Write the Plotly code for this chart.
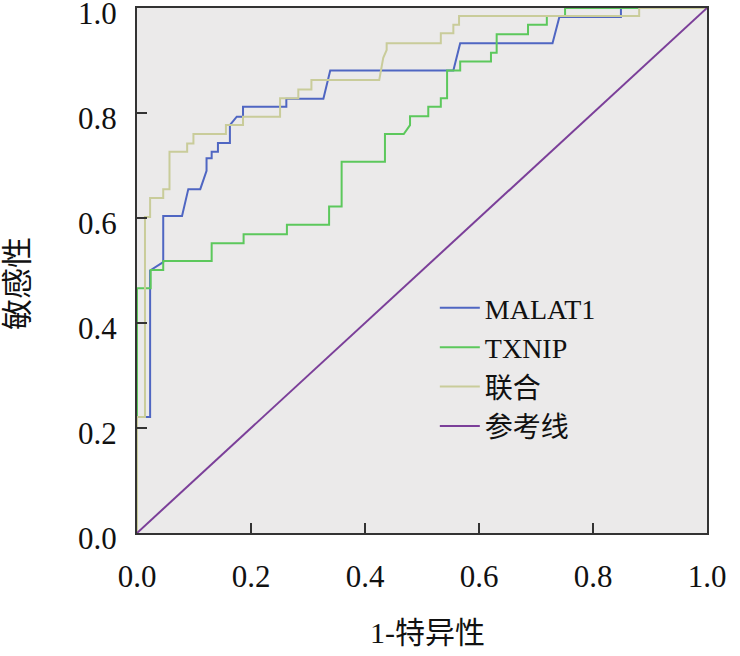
import plotly.graph_objects as go

# ROC curve points (1 - specificity, sensitivity)
malat1_x = [0, 0, 0.023, 0.023, 0.046, 0.046, 0.079, 0.090, 0.111, 0.122, 0.122, 0.131, 0.131,
            0.142, 0.142, 0.163, 0.163, 0.175, 0.186, 0.186, 0.262, 0.262, 0.327, 0.339, 0.555,
            0.567, 0.729, 0.741, 0.849, 0.849, 1.0]
malat1_y = [0, 0.221, 0.221, 0.500, 0.516, 0.604, 0.604, 0.655, 0.655, 0.690, 0.714, 0.714, 0.726,
            0.726, 0.743, 0.743, 0.777, 0.793, 0.793, 0.812, 0.812, 0.827, 0.827, 0.881, 0.881,
            0.933, 0.933, 0.983, 0.983, 1.0, 1.0]

txnip_x = [0, 0, 0.024, 0.024, 0.046, 0.046, 0.131, 0.131, 0.187, 0.187, 0.263, 0.263, 0.337,
           0.337, 0.359, 0.359, 0.435, 0.435, 0.468, 0.479, 0.479, 0.511, 0.511, 0.533, 0.533,
           0.544, 0.544, 0.567, 0.567, 0.621, 0.621, 0.631, 0.631, 0.686, 0.686, 0.719, 0.719,
           0.751, 0.751, 1.0]
txnip_y = [0, 0.466, 0.466, 0.501, 0.501, 0.518, 0.518, 0.552, 0.552, 0.569, 0.569, 0.587, 0.587,
           0.622, 0.622, 0.707, 0.707, 0.760, 0.760, 0.777, 0.794, 0.794, 0.812, 0.812, 0.828,
           0.828, 0.881, 0.881, 0.898, 0.898, 0.915, 0.915, 0.950, 0.950, 0.968, 0.968, 0.985,
           0.985, 1.0, 1.0]

combined_x = [0, 0, 0.014, 0.014, 0.023, 0.023, 0.046, 0.046, 0.057, 0.057, 0.088, 0.088, 0.099,
              0.099, 0.156, 0.156, 0.186, 0.186, 0.251, 0.251, 0.283, 0.283, 0.306, 0.306, 0.425,
              0.432, 0.438, 0.438, 0.533, 0.533, 0.555, 0.555, 0.565, 0.565, 0.881, 0.881, 1.0]
combined_y = [0, 0.221, 0.221, 0.602, 0.602, 0.638, 0.638, 0.655, 0.655, 0.726, 0.726, 0.742, 0.742,
              0.760, 0.760, 0.777, 0.777, 0.793, 0.793, 0.828, 0.828, 0.845, 0.845, 0.863, 0.863,
              0.905, 0.920, 0.933, 0.933, 0.952, 0.952, 0.968, 0.968, 0.985, 0.985, 1.0, 1.0]

ref_x = [0, 1]
ref_y = [0, 1]

tick_vals = [0, 0.2, 0.4, 0.6, 0.8, 1.0]
tick_text = ['0.0', '0.2', '0.4', '0.6', '0.8', '1.0']

font_family = 'Liberation Serif, Noto Sans CJK SC, serif'

fig = go.Figure()
fig.add_trace(go.Scatter(x=malat1_x, y=malat1_y, mode='lines', name='MALAT1',
                         line=dict(color='#4f66c2', width=2)))
fig.add_trace(go.Scatter(x=txnip_x, y=txnip_y, mode='lines', name='TXNIP',
                         line=dict(color='#5cc85c', width=2)))
fig.add_trace(go.Scatter(x=combined_x, y=combined_y, mode='lines', name='联合',
                         line=dict(color='#c9cc9a', width=2)))
fig.add_trace(go.Scatter(x=ref_x, y=ref_y, mode='lines', name='参考线',
                         line=dict(color='#7b3f99', width=2)))

axis_style = dict(range=[0, 1], tickvals=tick_vals, ticktext=tick_text,
                  showgrid=False, zeroline=False, showline=True, mirror=True,
                  linecolor='#333333', linewidth=2, ticks='inside', ticklen=10,
                  tickcolor='#333333', tickwidth=2, ticklabeloverflow='allow',
                  automargin=False,
                  tickfont=dict(family=font_family, size=31, color='#111111'))

fig.update_xaxes(**axis_style, ticklabelstandoff=15)
fig.update_yaxes(**axis_style, ticklabelstandoff=12, ticklabelshift=5)

fig.update_layout(
    width=740, height=656,
    margin=dict(l=137, r=33, t=8, b=123, autoexpand=False),
    paper_bgcolor='white',
    plot_bgcolor='#ebeaea',
    font=dict(family=font_family, size=28, color='#111111'),
    legend=dict(x=0.5225, y=0.476, xanchor='left', yanchor='top',
                bgcolor='rgba(0,0,0,0)', font=dict(size=28),
                tracegroupgap=0, itemwidth=40),
    annotations=[
        dict(text='1-特异性', x=0.51, y=-0.19, xref='paper', yref='paper',
             xanchor='center', yanchor='middle', showarrow=False,
             font=dict(family=font_family, size=30)),
        dict(text='敏感性', x=-0.21, y=0.475, xref='paper', yref='paper',
             xanchor='center', yanchor='middle', showarrow=False, textangle=-90,
             font=dict(family=font_family, size=31)),
    ],
)

# page margin off so the chart sits at the window corner
fig.write_html('out.html', config={'displayModeBar': False},
               post_script="document.body.style.margin='0';")
